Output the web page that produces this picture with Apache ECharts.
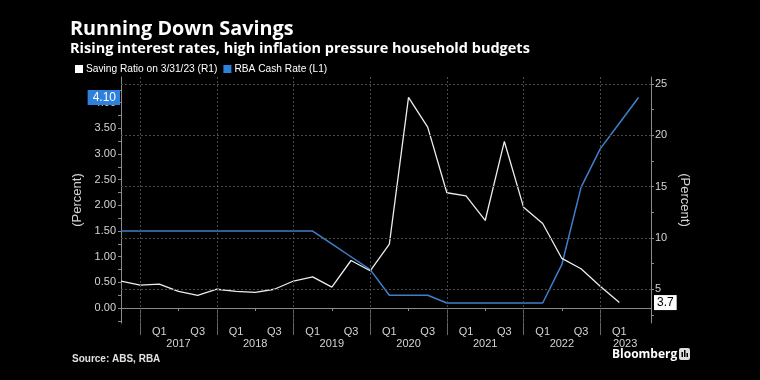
<!DOCTYPE html>
<html>
<head>
<meta charset="utf-8">
<script src="https://cdn.jsdelivr.net/npm/echarts@6/dist/echarts.min.js"></script>
<style>
html,body{margin:0;padding:0;background:#000;}
#c{width:760px;height:380px;}
</style>
</head>
<body>
<div id="c"></div>
<script>
// Quarters (index 0 = 2016 Q3)
const quarters = ['2016Q3','2016Q4','2017Q1','2017Q2','2017Q3','2017Q4','2018Q1','2018Q2','2018Q3','2018Q4',
  '2019Q1','2019Q2','2019Q3','2019Q4','2020Q1','2020Q2','2020Q3','2020Q4','2021Q1','2021Q2','2021Q3','2021Q4',
  '2022Q1','2022Q2','2022Q3','2022Q4','2023Q1','2023Q2'];
// Household saving ratio (%), right axis
const savingRatio = [5.8, 5.4, 5.5, 4.8, 4.4, 5.0, 4.8, 4.7, 5.0, 5.8, 6.2, 5.2, 7.8, 6.8, 9.4, 23.7, 20.8,
  14.4, 14.1, 11.7, 19.4, 13.0, 11.4, 8.0, 7.0, 5.3, 3.7];
// RBA cash rate (%), left axis
const cashRate = [1.50, 1.50, 1.50, 1.50, 1.50, 1.50, 1.50, 1.50, 1.50, 1.50, 1.50, 1.25, 1.00, 0.75, 0.25,
  0.25, 0.25, 0.10, 0.10, 0.10, 0.10, 0.10, 0.10, 0.85, 2.35, 3.10, 3.60, 4.10];
// Axis tick labels
const leftTicks = [0, 0.5, 1.0, 1.5, 2.0, 2.5, 3.0, 3.5, 4.0];
const leftMinorTicks = [-0.25,0,0.25,0.5,0.75,1,1.25,1.5,1.75,2,2.25,2.5,2.75,3,3.25,3.5,3.75,4,4.25];
const rightTicks = [5, 10, 15, 20, 25];
const rightMinorTicks = [2.5,5,7.5,10,12.5,15,17.5,20,22.5,25];
const quarterLabelQuarters = ['2017Q1','2017Q3','2018Q1','2018Q3','2019Q1','2019Q3','2020Q1','2020Q3',
  '2021Q1','2021Q3','2022Q1','2022Q3','2023Q1'];
const yearLabels = ['2017','2018','2019','2020','2021','2022','2023'];
const yearBoundaryQuarters = ['2016Q4','2017Q4','2018Q4','2019Q4','2020Q4','2021Q4','2022Q4'];
const midYearQuarters = ['2017Q2','2018Q2','2019Q2','2020Q2','2021Q2','2022Q2'];

const qi = q => quarters.indexOf(q);
const qLabelPos = quarterLabelQuarters.map(qi);
const yearPos = yearLabels.map((y, k) => k < 6 ? qi(y + 'Q2') : qi(y + 'Q1') + 0.3);
const boundaryPos = yearBoundaryQuarters.map(qi);
const midPos = midYearQuarters.map(qi);

const X_MIN = 0, X_MAX = 27.65;
const L_MIN = -0.29, L_MAX = 4.50;
const R_MIN = 1.71, R_MAX = 25.68;

const gridRect = {left: 121, right: 109, top: 77, bottom: 57};
const font = 'Liberation Sans';
const titleFont = 'Open Sans';
const axisGray = '#8a8a8a';
const labelColor = '#d4d4d4';

const chart = echarts.init(document.getElementById('c'));
chart.setOption({
  backgroundColor: '#000',
  animation: false,
  textStyle: {fontFamily: font},
  title: [
    {text: 'Running Down Savings', left: 65, top: 14,
     textStyle: {color: '#fff', fontSize: 19.8, fontWeight: 'bold', fontFamily: titleFont}},
    {text: 'Rising interest rates, high inflation pressure household budgets', left: 65, top: 36,
     textStyle: {color: '#fff', fontSize: 14.5, fontWeight: 'bold', fontFamily: titleFont}},
    {text: 'Source: ABS, RBA', left: 67, top: 349,
     textStyle: {color: '#e0e0e0', fontSize: 10, fontWeight: 'bold', fontFamily: font}},
    {text: 'Bloomberg', left: 607, top: 344,
     textStyle: {color: '#fff', fontSize: 12, fontWeight: 'bold', fontFamily: titleFont}}
  ],
  legend: {
    left: 70, top: 59, itemWidth: 8, itemHeight: 8, itemGap: 6, icon: 'rect',
    textStyle: {color: '#fff', fontSize: 10.2, fontFamily: font, padding: [0, 0, 0, -2]},
    data: ['Saving Ratio on 3/31/23 (R1)', 'RBA Cash Rate (L1)']
  },
  grid: [Object.assign({}, gridRect), Object.assign({}, gridRect)],
  xAxis: [
    {type: 'value', gridIndex: 0, min: X_MIN, max: X_MAX, position: 'bottom',
     axisLine: {show: true, lineStyle: {color: axisGray, width: 1}},
     axisTick: {show: true, customValues: boundaryPos, length: 27, lineStyle: {color: '#666'}},
     axisLabel: {show: true, customValues: qLabelPos, margin: 3, color: labelColor, fontSize: 11,
       formatter: v => quarters[Math.round(v)].slice(4)},
     splitLine: {show: false}},
    {type: 'value', gridIndex: 1, min: X_MIN, max: X_MAX, position: 'bottom',
     axisLine: {show: false},
     axisTick: {show: true, customValues: midPos, length: 3, lineStyle: {color: axisGray}},
     axisLabel: {show: true, customValues: yearPos, margin: 15, color: labelColor, fontSize: 11,
       formatter: v => yearLabels[yearPos.findIndex(p => Math.abs(p - v) < 1e-6)]},
     splitLine: {show: false}}
  ],
  yAxis: [
    {type: 'value', gridIndex: 0, position: 'left', min: L_MIN, max: L_MAX,
     name: '(Percent)', nameLocation: 'middle', nameGap: 36, nameRotate: 90,
     nameTextStyle: {color: labelColor, fontSize: 13},
     axisLine: {show: true, lineStyle: {color: axisGray}},
     axisTick: {show: true, customValues: leftMinorTicks, length: 3, lineStyle: {color: axisGray}},
     axisLabel: {show: true, customValues: leftTicks, margin: 5, color: labelColor, fontSize: 11,
       formatter: v => v.toFixed(2)},
     splitLine: {show: false}},
    {type: 'value', gridIndex: 0, position: 'right', min: R_MIN, max: R_MAX,
     name: '(Percent)', nameLocation: 'middle', nameGap: 23, nameRotate: -90,
     nameTextStyle: {color: labelColor, fontSize: 13},
     axisLine: {show: true, lineStyle: {color: axisGray}},
     axisTick: {show: true, customValues: rightMinorTicks, length: 3, lineStyle: {color: axisGray}},
     axisLabel: {show: true, customValues: rightTicks, margin: 4, color: labelColor, fontSize: 11},
     splitLine: {show: false}},
    {type: 'value', gridIndex: 1, position: 'left', min: L_MIN, max: L_MAX,
     axisLine: {show: false}, axisTick: {show: false}, splitLine: {show: false},
     axisLabel: {show: true, customValues: [cashRate[cashRate.length - 1]], margin: 1,
       color: '#fff', fontSize: 12, backgroundColor: '#2f80dc', padding: [2, 4, 1, 5],
       formatter: v => v.toFixed(2)}},
    {type: 'value', gridIndex: 1, position: 'right', min: R_MIN, max: R_MAX,
     axisLine: {show: false}, axisTick: {show: false}, splitLine: {show: false},
     axisLabel: {show: true, customValues: [savingRatio[savingRatio.length - 1]], margin: 3,
       color: '#000', fontSize: 12, backgroundColor: '#fff', padding: [2, 3, 1, 3],
       formatter: v => v.toFixed(1)}}
  ],
  series: [
    {name: 'Saving Ratio on 3/31/23 (R1)', type: 'line', xAxisIndex: 0, yAxisIndex: 1,
     data: savingRatio.map((v, i) => [i, v]), showSymbol: false, symbol: 'none',
     itemStyle: {color: '#ffffff'}, lineStyle: {color: '#ececec', width: 1.3}, z: 3,
     markLine: {silent: true, symbol: 'none', label: {show: false},
       lineStyle: {color: '#4a4a4a', type: [2, 2], width: 1},
       data: rightTicks.map(v => ({yAxis: v})).concat(boundaryPos.map(p => ({xAxis: p})))}},
    {name: 'RBA Cash Rate (L1)', type: 'line', xAxisIndex: 0, yAxisIndex: 0,
     data: cashRate.map((v, i) => [i, v]), showSymbol: false, symbol: 'none',
     itemStyle: {color: '#2f80dc'}, lineStyle: {color: '#3f7fcc', width: 1.5}, z: 2}
  ],
  graphic: [
    {type: 'rect', left: 679, top: 348, shape: {width: 11, height: 12, r: 2}, style: {fill: '#ddd'}},
    {type: 'rect', left: 681.5, top: 352, shape: {width: 1.5, height: 5}, style: {fill: '#000'}},
    {type: 'rect', left: 684, top: 350, shape: {width: 1.5, height: 7}, style: {fill: '#000'}},
    {type: 'rect', left: 686.5, top: 353, shape: {width: 1.5, height: 4}, style: {fill: '#000'}}
  ]
});
</script>
</body>
</html>
